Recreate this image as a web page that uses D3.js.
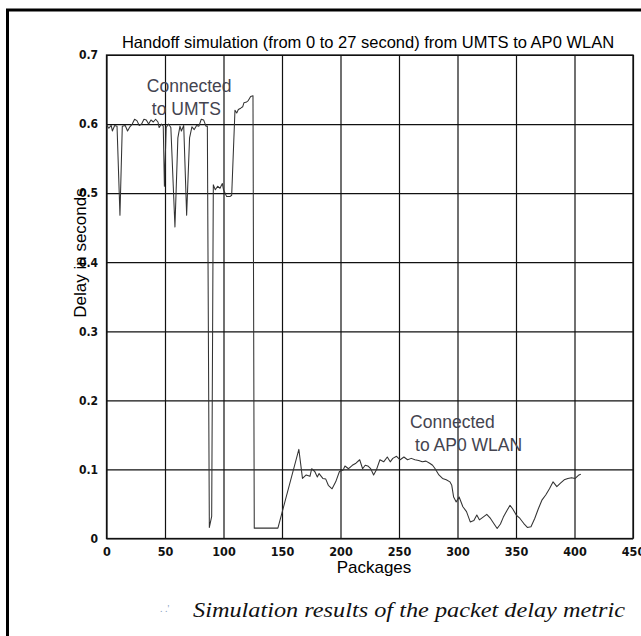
<!DOCTYPE html>
<html>
<head>
<meta charset="utf-8">
<script src="https://cdn.jsdelivr.net/npm/d3@7"></script>
<style>
  html, body { margin: 0; padding: 0; background: #fff; }
  svg { display: block; }
</style>
</head>
<body>
<svg id="chart" width="641" height="636"></svg>
<script>
// ---------------- data ----------------
const chartTitle = "Handoff simulation (from 0 to 27 second) from UMTS to AP0 WLAN";
const xLabel = "Packages";
const yLabel = "Delay in seconds";
const caption = "Simulation results of the packet delay metric";

const xTicks = [0, 50, 100, 150, 200, 250, 300, 350, 400, 450];
const yTicks = [0, 0.1, 0.2, 0.3, 0.4, 0.5, 0.6, 0.7];
const yTickLabels = ["0", "0.1", "0.2", "0.3", "0.4", "0.5", "0.6", "0.7"];

// packet index
const packets = [
  0, 2, 4, 5, 7, 9, 11.5, 13.5, 16, 18, 20, 22, 24, 26, 28, 30, 32, 34, 36, 38,
  40, 42, 44, 45, 47, 48.5, 49.5, 51, 53, 55, 58.5, 61, 62.8, 64, 66, 68.5, 71, 73,
  75, 77, 79, 81, 83, 85, 86.2, 87.9, 89.9, 91.3, 93, 95, 97, 99, 100, 102.7,
  105.5, 107, 109.8, 111.3, 112.7, 114.7, 116.4, 117.5, 119.8, 121.2, 123.2, 125.2,
  126.3, 146.5, 164.4, 167.5, 170.7, 173.9, 175.4, 178, 180.2, 181.7, 184.9, 187.4,
  189.6, 192.8, 195.9, 199.1, 202.2, 203.8, 206.9, 210.1, 213.2, 216.4, 218.9,
  221.1, 223.3, 225.8, 228.3, 230.6, 233.7, 236.9, 240, 242.5, 244.7, 247.9, 251,
  254.2, 257.3, 260.5, 263.6, 266.8, 269.9, 273.1, 276.2, 278.7, 280.9, 284.1,
  287.2, 290.4, 293.5, 295.1, 296.7, 298.9, 301.4, 304.6, 307.7, 310.9, 314,
  316.5, 318.7, 321.9, 325, 328.2, 331.3, 333.9, 336.7, 339.2, 342.4, 344.9,
  347.1, 350.2, 353.4, 356.5, 359.7, 362.8, 366, 369.1, 372.3, 375.4, 378.6,
  381.7, 384.9, 388, 391.2, 394.3, 397.5, 400.6, 403.8, 405.4
];
// delay in seconds
const delay = [
  0.599, 0.594, 0.598, 0.590, 0.598, 0.597, 0.468, 0.597, 0.598, 0.590, 0.596, 0.600,
  0.607, 0.605, 0.598, 0.600, 0.607, 0.606, 0.600, 0.606, 0.603, 0.607, 0.603, 0.595,
  0.600, 0.597, 0.510, 0.595, 0.600, 0.595, 0.451, 0.580, 0.597, 0.590, 0.598, 0.468,
  0.580, 0.596, 0.592, 0.598, 0.597, 0.607, 0.606, 0.597, 0.597, 0.016, 0.032, 0.512,
  0.505, 0.510, 0.507, 0.514, 0.505, 0.495, 0.495, 0.497, 0.620, 0.616, 0.621, 0.623,
  0.625, 0.631, 0.632, 0.634, 0.640, 0.641, 0.015, 0.015, 0.129, 0.087, 0.092, 0.090,
  0.101, 0.097, 0.089, 0.094, 0.087, 0.086, 0.077, 0.072, 0.082, 0.097, 0.099, 0.105,
  0.101, 0.106, 0.109, 0.114, 0.101, 0.106, 0.105, 0.101, 0.092, 0.099, 0.114, 0.111,
  0.118, 0.111, 0.116, 0.119, 0.114, 0.118, 0.114, 0.116, 0.114, 0.113, 0.111, 0.112,
  0.109, 0.106, 0.101, 0.092, 0.087, 0.085, 0.082, 0.077, 0.060, 0.053, 0.060, 0.046,
  0.039, 0.024, 0.026, 0.034, 0.027, 0.031, 0.035, 0.029, 0.021, 0.0145, 0.021, 0.031,
  0.041, 0.048, 0.043, 0.034, 0.029, 0.022, 0.016, 0.017, 0.029, 0.043, 0.056, 0.063,
  0.072, 0.082, 0.075, 0.080, 0.085, 0.087, 0.088, 0.087, 0.092, 0.093
];

// annotations
const annotUMTS = ["Connected", "to UMTS"];
const annotWLAN = ["Connected", "to AP0 WLAN"];

// ---------------- drawing ----------------
const svg = d3.select("#chart");
const mLeft = 106.5, mRight = 633, mTop = 55, mBottom = 538.5;

const x = d3.scaleLinear().domain([0, 450]).range([mLeft, mRight]);
const y = d3.scaleLinear().domain([0, 0.7]).range([mBottom, mTop]);

// outer frame (partial box, cropped figure)
svg.append("path")
  .attr("d", "M7.5,636 L7.5,10 L641,10")
  .attr("fill", "none").attr("stroke", "#000").attr("stroke-width", 3);

const tickFont = "'Liberation Sans Narrow','DejaVu Sans Condensed','Liberation Sans',Arial,sans-serif";

// x grid + axis
const xAxis = d3.axisBottom(x).tickValues(xTicks).tickFormat(d3.format("d"))
  .tickSizeInner(-(mBottom - mTop)).tickSizeOuter(0).tickPadding(8.5);
const gx = svg.append("g").attr("transform", `translate(0,${mBottom})`).call(xAxis);
gx.select(".domain").remove();
gx.selectAll("line").attr("stroke", "#111").attr("stroke-width", 1.2);
gx.selectAll("text").attr("font-family", tickFont).attr("font-weight", "bold")
  .attr("font-size", 12.5).attr("fill", "#111");

// y grid + axis
const yAxis = d3.axisLeft(y).tickValues(yTicks).tickFormat((d, i) => yTickLabels[i])
  .tickSizeInner(-(mRight - mLeft)).tickSizeOuter(0).tickPadding(8.5);
const gy = svg.append("g").attr("transform", `translate(${mLeft},0)`).call(yAxis);
gy.select(".domain").remove();
gy.selectAll("line").attr("stroke", "#111").attr("stroke-width", 1.2);
gy.selectAll("text").attr("font-family", tickFont).attr("font-weight", "bold")
  .attr("font-size", 12).attr("fill", "#111");

// plot frame
svg.append("rect").attr("x", mLeft).attr("y", mTop)
  .attr("width", mRight - mLeft).attr("height", mBottom - mTop)
  .attr("fill", "none").attr("stroke", "#111").attr("stroke-width", 1.3);

// data line
const pts = packets.map((p, i) => [p, delay[i]]);
svg.append("path").datum(pts)
  .attr("fill", "none").attr("stroke", "#333").attr("stroke-width", 1.05)
  .attr("stroke-linejoin", "round")
  .attr("d", d3.line().x(d => x(d[0])).y(d => y(d[1])));

// title
svg.append("text").attr("x", 368).attr("y", 48).attr("text-anchor", "middle")
  .attr("font-family", "'Liberation Sans',Arial,sans-serif").attr("font-size", 16.5)
  .attr("fill", "#000").text(chartTitle);

// axis labels
svg.append("text").attr("x", 374).attr("y", 573).attr("text-anchor", "middle")
  .attr("font-family", "'Liberation Sans',Arial,sans-serif").attr("font-size", 17)
  .attr("fill", "#000").text(xLabel);
svg.append("text").attr("transform", "translate(86,253) rotate(-90)")
  .attr("text-anchor", "middle")
  .attr("font-family", "'Liberation Sans',Arial,sans-serif").attr("font-size", 17)
  .attr("fill", "#000").text(yLabel);

// annotations
function annot(lines, px, py, indent) {
  const t = svg.append("text")
    .attr("font-family", "'Liberation Sans',Arial,sans-serif").attr("font-size", 17.5)
    .attr("fill", "#44444f");
  lines.forEach((s, i) => {
    t.append("tspan").attr("x", x(px) + (i ? indent : 0)).attr("y", y(py) + i * 23).text(s);
  });
}
annot(annotUMTS, 34.5, 0.6465, 5);
annot(annotWLAN, 259.5, 0.1606, 5);

// caption
svg.append("text").attr("x", 160).attr("y", 612).attr("font-size", 10)
  .attr("fill", "#8aa0c0").text(". .'");
svg.append("text").attr("x", 193).attr("y", 617)
  .attr("font-family", "'Liberation Serif','DejaVu Serif',serif").attr("font-style", "italic")
  .attr("font-size", 21).attr("fill", "#111")
  .attr("textLength", 432).attr("lengthAdjust", "spacingAndGlyphs")
  .text(caption);
</script>
</body>
</html>
